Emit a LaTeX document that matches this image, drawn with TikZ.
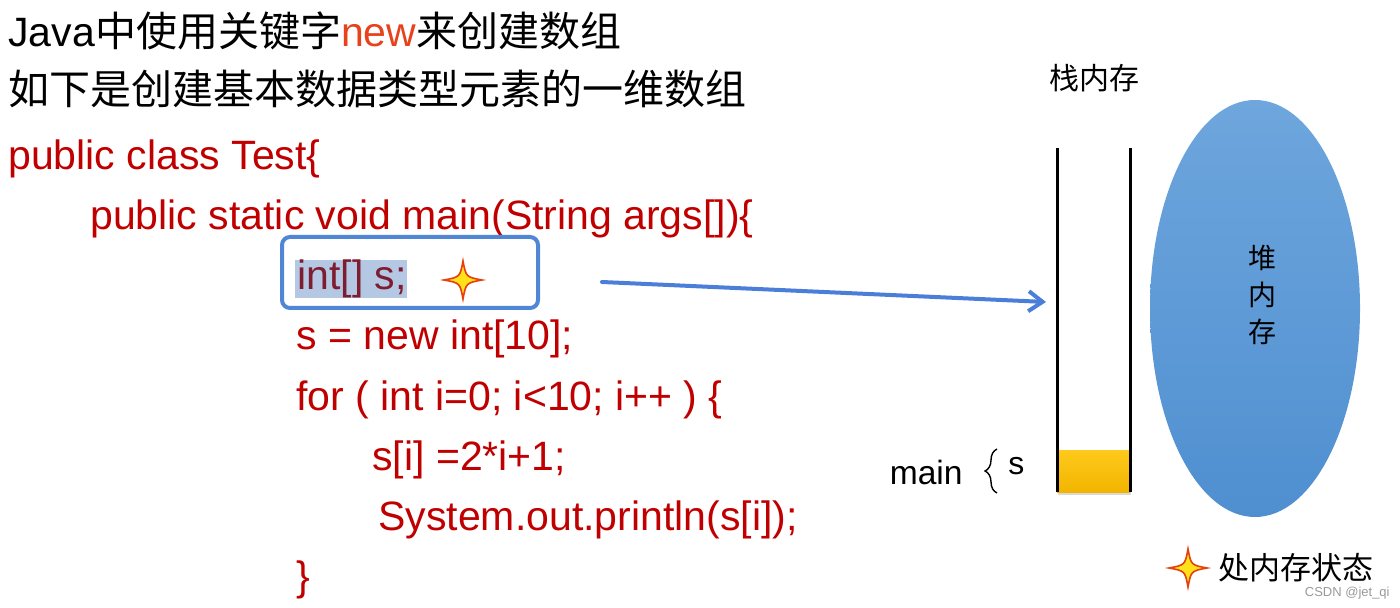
\documentclass[tikz,border=0pt]{standalone}
\usepackage{fontspec}
\setmainfont{Liberation Sans}
\newfontfamily\cjk{Noto Sans CJK SC}
\usetikzlibrary{arrows.meta,shapes.geometric,decorations.pathreplacing,shadows}
\definecolor{codered}{HTML}{C00000}
\definecolor{neworange}{HTML}{E8421C}
\definecolor{selred}{HTML}{7E1D30}
\definecolor{selbg}{HTML}{B4C8E4}
\definecolor{boxblue}{HTML}{4F87D6}
\definecolor{arrowblue}{HTML}{4A7ED8}
\definecolor{heaptop}{HTML}{6EA6DD}
\definecolor{heapbot}{HTML}{4F8FD0}
\definecolor{orangetop}{HTML}{FFCA1C}
\definecolor{orangebot}{HTML}{F2B400}
\definecolor{starred}{HTML}{E5400E}
\definecolor{staryellow}{HTML}{FFE11A}
\begin{document}
\begin{tikzpicture}[x=0.5pt,y=-0.5pt,
  bigtext/.style={anchor=base west, inner sep=0pt, font=\fontsize{20.5}{24}\selectfont},
  codeline/.style={bigtext, text=codered},
  sparkle/.pic={\filldraw[draw=starred, line width=0.8pt, fill=staryellow]
     (0,-19) .. controls (3,-3) .. (19,0) .. controls (3,3) .. (0,19)
     .. controls (-3,3) .. (-19,0) .. controls (-3,-3) .. (0,-19) -- cycle;}
]
\useasboundingbox (0,0) rectangle (1400,608);

% title lines
\node[bigtext] (t1) at (8,47) {Java{\cjk 中使用关键字}\textcolor{neworange}{new}{\cjk 来创建数组}};
\node[bigtext] (t2) at (8,105) {\cjk 如下是创建基本数据类型元素的一维数组};

% code
\node[codeline] (c1) at (8,170) {public class Test\{};
\node[codeline] (c2) at (90,230) {public static void main(String args[])\{};
\fill[selbg] (295,260) rectangle (407,298);
\node[codeline, text=selred] (c3) at (297,290) {int[] s;};
\node[codeline] (c4) at (296,350) {s = new int[10];};
\node[codeline] (c5) at (296,410) {for ( int i=0; i<10; i++ ) \{};
\node[codeline] (c6) at (372,470) {s[i] =2*i+1;};
\node[codeline] (c7) at (378,530) {System.out.println(s[i]);};
\node[codeline] (c8) at (296,590) {\}};

% selection box and star
\node[draw=boxblue, line width=2pt, rounded corners=4pt, inner sep=0pt,
      minimum width=128pt, minimum height=35.5pt] (selbox) at (410,272.5) {};
\pic at (463,280) {sparkle};

% stack
\node[inner sep=0pt, minimum width=36.5pt, minimum height=21pt,
      top color=orangetop, bottom color=orangebot,
      drop shadow={opacity=0.3, shadow xshift=0.6pt, shadow yshift=-1.5pt}] (frame) at (1093.5,471) {};
\coordinate (sl1) at (1057,148);
\coordinate (sl2) at (1057,492);
\coordinate (sr1) at (1130,148);
\coordinate (sr2) at (1130,492);
\draw[line width=1.5pt] (sl1) -- (sl2);
\draw[line width=1.5pt] (sr1) -- (sr2);
\node[font=\cjk\fontsize{15}{18}\selectfont, inner sep=0pt] (stacklbl) at (1094,78) {栈内存};

% heap
\node[ellipse, inner sep=0pt, minimum width=105pt, minimum height=208.5pt,
      top color=heaptop, bottom color=heapbot] (heap) at (1255,308.5) {};
\node[font=\cjk\fontsize{14}{18.5}\selectfont, align=center, inner sep=0pt] (heaptxt) at (1262,295) {堆\\内\\存};

% arrow
\coordinate (afrom) at (602,282);
\coordinate (ato) at (1046,302);
\draw[arrowblue, line width=2pt, line cap=round, -{Straight Barb[length=7pt,width=10pt]}] (afrom) -- (ato);

% main { s
\node[anchor=base east, inner sep=0pt, font=\fontsize{16.8}{20}\selectfont] (mainlbl) at (963,484) {main};
\coordinate (br1) at (997,493);
\coordinate (br2) at (997,449);
\draw[line width=0.7pt, decorate, decoration={brace, amplitude=6pt}] (br1) -- (br2);
\node[anchor=base west, inner sep=0pt, font=\fontsize{16}{19}\selectfont] (slbl) at (1008,474) {s};

% legend
\pic at (1188,568) {sparkle};
\node[font=\cjk\fontsize{15.5}{18}\selectfont, inner sep=0pt, anchor=west] (legend) at (1218,568) {处内存状态};
\node[font=\fontsize{6.5}{8}\selectfont, text=black!40, inner sep=0pt, anchor=east] (csdn) at (1390,593) {CSDN @jet\_qi};
\end{tikzpicture}
\end{document}
